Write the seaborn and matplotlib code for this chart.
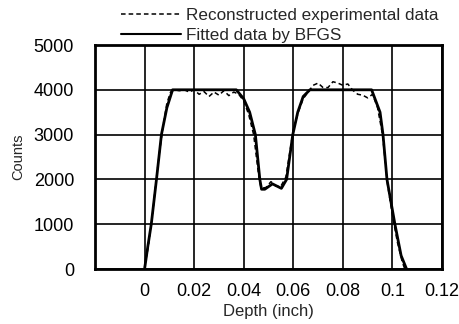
import matplotlib
matplotlib.use("Agg")
import matplotlib.pyplot as plt
import seaborn as sns
import pandas as pd
from matplotlib.lines import Line2D

# Fitted data by BFGS (solid)
fit_depth = [0.0, 0.0013, 0.0027, 0.0048, 0.0068, 0.0090, 0.0113, 0.0370, 0.0400,
             0.0424, 0.0447, 0.0465, 0.0472, 0.0485, 0.0516, 0.0552, 0.0573, 0.0598,
             0.0618, 0.0640, 0.0667, 0.0916, 0.0950, 0.0962, 0.0978, 0.1010, 0.1035, 0.1057]
fit_counts = [0, 500, 1000, 2000, 3000, 3600, 4000, 4000, 3800,
              3500, 3000, 2000, 1780, 1780, 1900, 1800, 2000, 3000,
              3500, 3850, 4000, 4000, 3500, 3000, 2000, 1000, 300, 0]

# Reconstructed experimental data (dashed)
exp_depth = [0.0, 0.0015, 0.003, 0.0045, 0.006, 0.0075, 0.009, 0.0105, 0.012, 0.014,
             0.016, 0.018, 0.020, 0.022, 0.024, 0.026, 0.028, 0.030, 0.032, 0.034,
             0.036, 0.038, 0.040, 0.042, 0.044, 0.046, 0.047, 0.049, 0.051, 0.053,
             0.055, 0.057, 0.058, 0.060, 0.062, 0.064, 0.066, 0.068, 0.070, 0.072,
             0.074, 0.076, 0.078, 0.080, 0.082, 0.084, 0.086, 0.088, 0.090, 0.092,
             0.094, 0.096, 0.098, 0.100, 0.102, 0.104, 0.105]
exp_counts = [50, 500, 1100, 1900, 2600, 3200, 3700, 3950, 4000, 3980,
              4000, 3950, 4000, 3900, 3960, 3850, 3950, 3880, 3980, 3870,
              3950, 3900, 3750, 3450, 3000, 2100, 1800, 1820, 1950, 1850,
              1850, 2050, 2400, 3100, 3500, 3800, 3950, 4100, 4150, 4050,
              4050, 4180, 4150, 4100, 4130, 3990, 3900, 3880, 3820, 3900,
              3600, 3000, 1900, 1200, 600, 150, 0]

x_ticks = [0, 0.02, 0.04, 0.06, 0.08, 0.1, 0.12]
x_tick_labels = ["0", "0.02", "0.04", "0.06", "0.08", "0.1", "0.12"]
y_ticks = [0, 1000, 2000, 3000, 4000, 5000]
y_tick_labels = ["0", "1000", "2000", "3000", "4000", "5000"]

sns.set_style("white")
plt.rcParams["font.family"] = ["Liberation Sans", "DejaVu Sans"]

fig = plt.figure(figsize=(4.59, 3.24), dpi=100)
ax = fig.add_axes([95 / 459, 1 - 269 / 324, (442 - 95) / 459, (269 - 45) / 324])

fit_df = pd.DataFrame({"Depth": fit_depth, "Counts": fit_counts})
exp_df = pd.DataFrame({"Depth": exp_depth, "Counts": exp_counts})

sns.lineplot(data=exp_df, x="Depth", y="Counts", ax=ax, color="black",
             linewidth=1.1, linestyle=(0, (3, 2)), sort=False, zorder=3)
sns.lineplot(data=fit_df, x="Depth", y="Counts", ax=ax, color="black",
             linewidth=2.0, sort=False, zorder=4)

ax.set_xlim(-0.02, 0.12)
ax.set_ylim(0, 5000)
ax.set_xticks(x_ticks)
ax.set_xticklabels(x_tick_labels)
ax.set_yticks(y_ticks)
ax.set_yticklabels(y_tick_labels)
ax.grid(True, color="black", linewidth=1.2)
ax.set_axisbelow(True)
for s in ax.spines.values():
    s.set_color("black")
    s.set_linewidth(2)
    s.set_visible(True)
ax.tick_params(axis="both", length=0, labelsize=13, colors="black")
ax.tick_params(axis="y", pad=15)
ax.tick_params(axis="x", pad=10)
ax.set_xlabel("Depth (inch)", fontsize=12, labelpad=3)
ax.set_ylabel("Counts", fontsize=10.5, labelpad=6)

handles = [Line2D([], [], color="black", linewidth=1.1, linestyle=(0, (3, 2))),
           Line2D([], [], color="black", linewidth=1.5)]
labels = ["Reconstructed experimental data", "Fitted data by BFGS"]
fig.legend(handles, labels, loc="upper right", bbox_to_anchor=(445 / 459, 1 - 1 / 324),
           frameon=False, fontsize=12.3, handlelength=3.5, handletextpad=0.3,
           labelspacing=0.3, borderaxespad=0)

fig.savefig("out.png", dpi=100)
